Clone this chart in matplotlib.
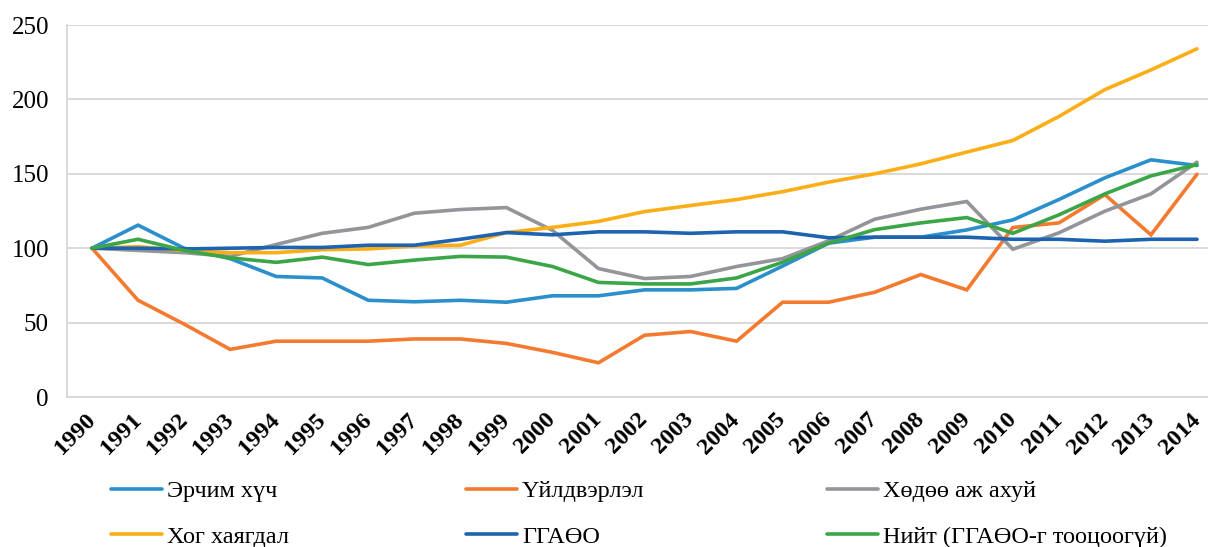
import matplotlib

matplotlib.use("Agg")
import matplotlib.pyplot as plt

plt.rcParams["font.family"] = ["Liberation Serif", "DejaVu Serif"]

years = list(range(1990, 2015))

energy = [100, 115.5, 100, 93, 81, 80, 65, 64, 65, 63.7, 68, 68, 72, 72, 73,
          88, 103.4, 107.4, 107.4, 112.3, 119, 132.7, 147.3, 159.4, 155.6]
industry = [100, 65, 49, 32, 37.5, 37.5, 37.5, 39, 39, 36, 30, 23, 41.5, 44, 37.5,
            63.7, 63.7, 70.4, 82.3, 72, 113.9, 117, 136, 109, 149.7]
agriculture = [100, 98.5, 97, 94.5, 102.5, 110, 114, 123.5, 126, 127.3, 112, 86.3,
               79.6, 81, 87.7, 93, 105, 119.5, 126.2, 131.4, 99.3, 110.3, 124.9,
               136.5, 157.8]
waste = [100, 101, 98.5, 97, 97, 99, 99.5, 101.5, 102, 110.5, 114, 118, 124.6,
         128.7, 132.7, 138, 144.4, 150, 156.7, 164.6, 172.4, 188.5, 206.6, 219.8, 234]
lulucf = [100, 100, 99.5, 100, 100.5, 100.5, 102, 102, 106, 110.5, 109, 111, 111,
          110, 111, 111, 107, 107.4, 107.4, 107.4, 106, 106, 104.7, 106, 106]
total = [100, 106, 98.5, 93.5, 90.5, 94, 89, 92, 94.5, 94, 87.7, 77, 76, 76, 80,
         90.6, 103.4, 112.5, 117, 120.6, 110, 122.4, 136.5, 148.6, 156.2]

series_names = ["Эрчим хүч", "Үйлдвэрлэл", "Хөдөө аж ахуй",
                "Хог хаягдал", "ГГАӨО", "Нийт (ГГАӨО-г тооцоогүй)"]
series_values = [energy, industry, agriculture, waste, lulucf, total]
colors = ["#2A8FCB", "#F47A30", "#939598", "#FBAE17", "#1E63B0", "#3AA648"]

fig = plt.figure(figsize=(12.08, 5.47), dpi=100)
ax = fig.add_axes([67 / 1208, 150 / 547, 1141 / 1208, 372 / 547])

lines = []
for name, vals, c in zip(series_names, series_values, colors):
    (ln,) = ax.plot(years, vals, color=c, lw=2.6, label=name,
                    solid_joinstyle="miter", solid_capstyle="round")
    lines.append(ln)

ax.set_ylim(0, 250)
ax.set_yticks([0, 50, 100, 150, 200, 250])
ax.set_xlim(1990 - 25 / 46.04, 2014 + 11 / 46.04)
ax.set_xticks(years)

ax.grid(axis="y", color="#D9D9D9", lw=1.4)
ax.set_axisbelow(True)
for side in ("top", "right"):
    ax.spines[side].set_visible(False)
for side in ("left", "bottom"):
    ax.spines[side].set_color("#D9D9D9")
    ax.spines[side].set_linewidth(1.4)

ax.tick_params(axis="y", length=0, pad=13, labelsize=18)
ax.tick_params(axis="x", length=0, pad=14, labelsize=17.5)
for lbl in ax.get_xticklabels():
    lbl.set_rotation(45)
    lbl.set_ha("right")
    lbl.set_va("center")
    lbl.set_rotation_mode("anchor")
    lbl.set_fontweight("bold")

# legend: three columns of two rows
col_x = [111, 466, 827]
for i, x in enumerate(col_x):
    handles = [lines[i], lines[i + 3]]
    fig.legend(handles=handles, labels=[h.get_label() for h in handles],
               loc="upper left", bbox_to_anchor=(x / 1208, 1 - 480 / 547),
               frameon=False, fontsize=17.5, handlelength=2.1, handletextpad=0.2,
               borderpad=0, borderaxespad=0, labelspacing=0.97)

fig.savefig("out.png", dpi=100)
